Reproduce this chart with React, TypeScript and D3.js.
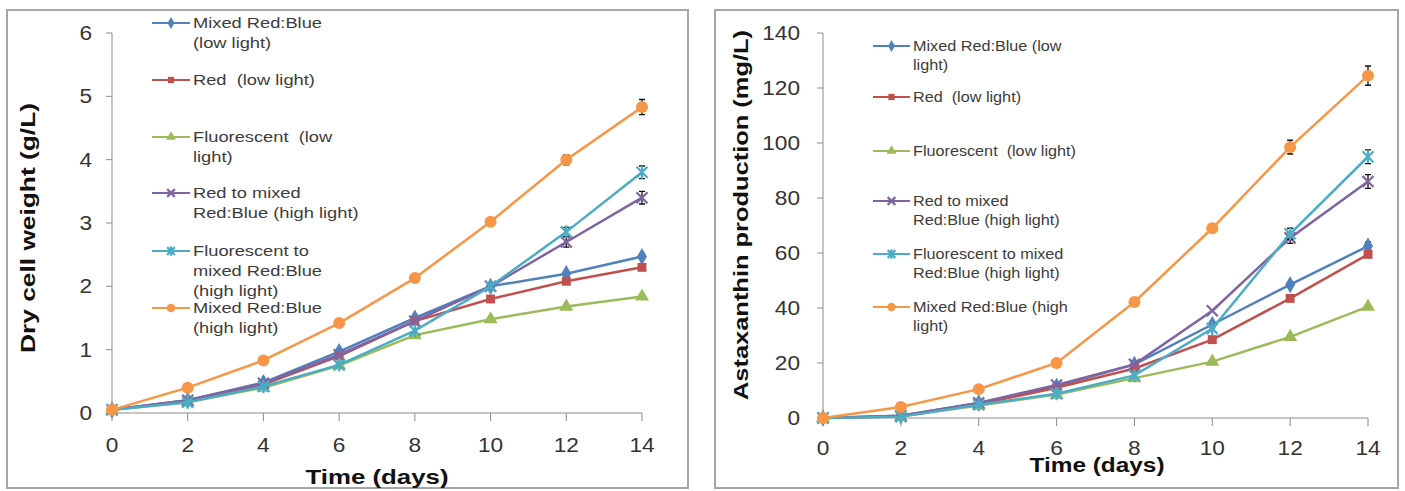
import React from "react";
import * as d3 from "d3";

// ---------- data ----------
const days = [0, 2, 4, 6, 8, 10, 12, 14];

const seriesKeys = ["mixedLow", "redLow", "fluorLow", "redToMixed", "fluorToMixed", "mixedHigh"];
const seriesColors = ["#4F81BD", "#C0504D", "#9BBB59", "#8064A2", "#4BACC6", "#F79646"];
const seriesMarkers = ["diamond", "square", "triangle", "x", "star", "circle"];

// Dry cell weight (g/L)
const dcwMixedLow = [0.05, 0.2, 0.48, 0.97, 1.5, 2.0, 2.2, 2.47];
const dcwRedLow = [0.05, 0.19, 0.45, 0.9, 1.45, 1.8, 2.08, 2.3];
const dcwFluorLow = [0.05, 0.17, 0.4, 0.75, 1.23, 1.48, 1.68, 1.84];
const dcwRedToMixed = [0.05, 0.2, 0.47, 0.92, 1.45, 2.0, 2.7, 3.4];
const dcwFluorToMixed = [0.05, 0.17, 0.42, 0.76, 1.3, 2.0, 2.86, 3.8];
const dcwMixedHigh = [0.05, 0.4, 0.83, 1.42, 2.13, 3.02, 4.0, 4.83];
const dcwErrRedToMixed = [0, 0, 0, 0, 0, 0, 0.08, 0.1];
const dcwErrFluorToMixed = [0, 0, 0, 0, 0, 0, 0.07, 0.1];
const dcwErrMixedHigh = [0, 0, 0, 0, 0, 0, 0.08, 0.12];

// Astaxanthin production (mg/L)
const astaMixedLow = [0, 0.8, 5.5, 11.5, 19.5, 34, 48.5, 62.5];
const astaRedLow = [0, 0.6, 5, 11, 18, 28.5, 43.5, 59.5];
const astaFluorLow = [0, 0.5, 4.5, 8.5, 14.5, 20.5, 29.5, 40.5];
const astaRedToMixed = [0, 0.8, 5.5, 12, 19.5, 39, 65.5, 86];
const astaFluorToMixed = [0, 0.5, 4.8, 8.8, 15.5, 32.5, 67, 95];
const astaMixedHigh = [0, 4, 10.5, 20, 42.2, 69, 98.5, 124.5];
const astaErrMixedLow = [0, 0, 0, 0, 0, 0, 0, 1.5];
const astaErrRedToMixed = [0, 0, 0, 0, 0, 0, 2, 2.5];
const astaErrFluorToMixed = [0, 0, 0, 0, 0, 0, 2, 2.5];
const astaErrMixedHigh = [0, 0, 0, 0, 0, 0, 2.5, 3.5];

const xTicks = [0, 2, 4, 6, 8, 10, 12, 14];
const dcwTicks = [0, 1, 2, 3, 4, 5, 6];
const astaTicks = [0, 20, 40, 60, 80, 100, 120, 140];

const leftLegendLines = [
  ["Mixed Red:Blue", "(low light)"],
  ["Red  (low light)"],
  ["Fluorescent  (low", "light)"],
  ["Red to mixed", "Red:Blue (high light)"],
  ["Fluorescent to", "mixed Red:Blue", "(high light)"],
  ["Mixed Red:Blue", "(high light)"],
];
const rightLegendLines = [
  ["Mixed Red:Blue (low", "light)"],
  ["Red  (low light)"],
  ["Fluorescent  (low light)"],
  ["Red to mixed", "Red:Blue (high light)"],
  ["Fluorescent to mixed", "Red:Blue (high light)"],
  ["Mixed Red:Blue (high", "light)"],
];

const dcwSeries = [dcwMixedLow, dcwRedLow, dcwFluorLow, dcwRedToMixed, dcwFluorToMixed, dcwMixedHigh];
const dcwErrors = [null, null, null, dcwErrRedToMixed, dcwErrFluorToMixed, dcwErrMixedHigh];
const astaSeries = [astaMixedLow, astaRedLow, astaFluorLow, astaRedToMixed, astaFluorToMixed, astaMixedHigh];
const astaErrors = [astaErrMixedLow, null, null, astaErrRedToMixed, astaErrFluorToMixed, astaErrMixedHigh];

const FONT = "'Liberation Sans', Arial, sans-serif";

function Marker({ type, x, y, color, s = 1 }: any) {
  if (type === "circle") return <circle cx={x} cy={y} r={6 * s} fill={color} />;
  if (type === "diamond")
    return <path d={d3.symbol(d3.symbolDiamond, 85 * s * s)()!} transform={`translate(${x},${y})`} fill={color} />;
  if (type === "square")
    return <path d={d3.symbol(d3.symbolSquare, 80 * s * s)()!} transform={`translate(${x},${y})`} fill={color} />;
  if (type === "triangle")
    return <path d={d3.symbol(d3.symbolTriangle, 85 * s * s)()!} transform={`translate(${x},${y})`} fill={color} />;
  const h = 5.5 * s;
  if (type === "x")
    return (
      <path d={`M${x - h},${y - h}L${x + h},${y + h}M${x - h},${y + h}L${x + h},${y - h}`} stroke={color} strokeWidth={2.2} />
    );
  return (
    <path
      d={`M${x - h},${y - h}L${x + h},${y + h}M${x - h},${y + h}L${x + h},${y - h}M${x},${y - h - 1}L${x},${y + h + 1}`}
      stroke={color}
      strokeWidth={2.2}
    />
  );
}

function T({ x, y, size, sx = 1, anchor = "start", weight = "normal", fill = "#333", children }: any) {
  return (
    <text
      transform={`translate(${x},${y}) scale(${sx},1)`}
      fontSize={size}
      fontFamily={FONT}
      fontWeight={weight}
      textAnchor={anchor}
      fill={fill}
      style={{ whiteSpace: "pre" }}
    >
      {children}
    </text>
  );
}

function Panel({ cfg }: any) {
  const x = d3.scaleLinear().domain([0, 14]).range([cfg.x0, cfg.x1]);
  const y = d3.scaleLinear().domain([0, cfg.yMax]).range([cfg.y0, cfg.y1]);
  const line = d3
    .line<number>()
    .x((_, i) => x(days[i]))
    .y((v) => y(v));
  const axisColor = "#8c8c8c";
  return (
    <g>
      <rect x={cfg.bx} y={cfg.by} width={cfg.bw} height={cfg.bh} fill="white" stroke="#a6a6a6" strokeWidth={2} />
      {/* axes */}
      <line x1={cfg.x0} x2={cfg.x0} y1={y(cfg.yMax)} y2={cfg.y0} stroke={axisColor} strokeWidth={1} />
      <line x1={cfg.x0} x2={cfg.x1} y1={cfg.y0} y2={cfg.y0} stroke={axisColor} strokeWidth={1} />
      {cfg.yTicks.map((t: number) => (
        <g key={"yt" + t}>
          <line x1={cfg.x0 - 6} x2={cfg.x0} y1={y(t)} y2={y(t)} stroke={axisColor} />
          <T x={cfg.yLabelX} y={y(t) + 7} size={21} sx={1.08} anchor="end">
            {t}
          </T>
        </g>
      ))}
      {xTicks.map((t) => (
        <g key={"xt" + t}>
          <line x1={x(t)} x2={x(t)} y1={cfg.y0} y2={cfg.y0 + 8} stroke={axisColor} />
          <T x={x(t)} y={cfg.xLabelY} size={21} sx={1.08} anchor="middle">
            {t}
          </T>
        </g>
      ))}
      <text
        x={cfg.xTitleX}
        y={cfg.xTitleY}
        fontSize={21}
        fontWeight="bold"
        fontFamily={FONT}
        textAnchor="middle"
        fill="#111"
        textLength={cfg.xTitleLen}
        lengthAdjust="spacingAndGlyphs"
      >
        Time (days)
      </text>
      <text
        transform={`translate(${cfg.yTitleX},${cfg.yTitleY}) rotate(-90)`}
        fontSize={21}
        fontWeight="bold"
        fontFamily={FONT}
        textAnchor="middle"
        fill="#111"
        textLength={cfg.yTitleLen}
        lengthAdjust="spacingAndGlyphs"
      >
        {cfg.yTitle}
      </text>
      {/* legend */}
      {cfg.legend.map((lines: string[], i: number) => {
        const ly = cfg.legendY[i];
        return (
          <g key={"lg" + i}>
            <line x1={cfg.lx0} x2={cfg.lx1} y1={ly} y2={ly} stroke={seriesColors[i]} strokeWidth={2.2} />
            <Marker type={seriesMarkers[i]} x={(cfg.lx0 + cfg.lx1) / 2} y={ly} color={seriesColors[i]} s={0.7} />
            {lines.map((ln, j) => (
              <T key={j} x={cfg.lx1 + 3} y={ly + 5 + j * cfg.legendLH} size={cfg.legendSize} sx={cfg.legendSx} fill="#3c3c3c">
                {ln}
              </T>
            ))}
          </g>
        );
      })}
      {/* series */}
      {cfg.series.map((vals: number[], i: number) => (
        <g key={"s" + i}>
          <path d={line(vals)!} fill="none" stroke={seriesColors[i]} strokeWidth={2.5} />
          {cfg.errors[i] &&
            vals.map((v, k) => {
              const e = cfg.errors[i][k];
              if (!e) return null;
              const cx = x(days[k]);
              return (
                <path
                  key={"e" + k}
                  d={`M${cx},${y(v + e)}L${cx},${y(v - e)}M${cx - 3},${y(v + e)}L${cx + 3},${y(v + e)}M${cx - 3},${y(v - e)}L${cx + 3},${y(v - e)}`}
                  stroke="#111"
                  strokeWidth={1.3}
                />
              );
            })}
          {vals.map((v, k) => (
            <Marker key={"m" + k} type={seriesMarkers[i]} x={x(days[k])} y={y(v)} color={seriesColors[i]} />
          ))}
        </g>
      ))}
    </g>
  );
}

const leftCfg = {
  bx: 7, by: 10, bw: 681, bh: 478,
  x0: 112, x1: 642, y0: 413, y1: 33, yMax: 6,
  yTicks: dcwTicks, yLabelX: 92, xLabelY: 452,
  xTitleX: 377, xTitleY: 484, xTitleLen: 143,
  yTitleX: 35, yTitleY: 228, yTitleLen: 250, yTitle: "Dry cell weight (g/L)",
  legend: leftLegendLines, legendY: [23, 80, 137, 193, 251, 308], legendLH: 20,
  legendSize: 15.5, legendSx: 1.18, lx0: 152, lx1: 190,
  series: dcwSeries, errors: dcwErrors,
};
const rightCfg = {
  bx: 715, by: 10, bw: 683, bh: 478,
  x0: 823, x1: 1368, y0: 418, y1: 33, yMax: 140,
  yTicks: astaTicks, yLabelX: 800, xLabelY: 455,
  xTitleX: 1097, xTitleY: 472, xTitleLen: 135,
  yTitleX: 748, yTitleY: 215, yTitleLen: 370, yTitle: "Astaxanthin production (mg/L)",
  legend: rightLegendLines, legendY: [46, 97, 151, 201, 254, 307], legendLH: 19,
  legendSize: 15, legendSx: 1.08, lx0: 873, lx1: 910,
  series: astaSeries, errors: astaErrors,
};

export default function App() {
  return (
    <svg width={1405} height={491} style={{ position: "absolute", left: 0, top: 0, display: "block", background: "white" }}>
      <rect x={0} y={0} width={1405} height={491} fill="white" />
      <Panel cfg={leftCfg} />
      <Panel cfg={rightCfg} />
    </svg>
  );
}
